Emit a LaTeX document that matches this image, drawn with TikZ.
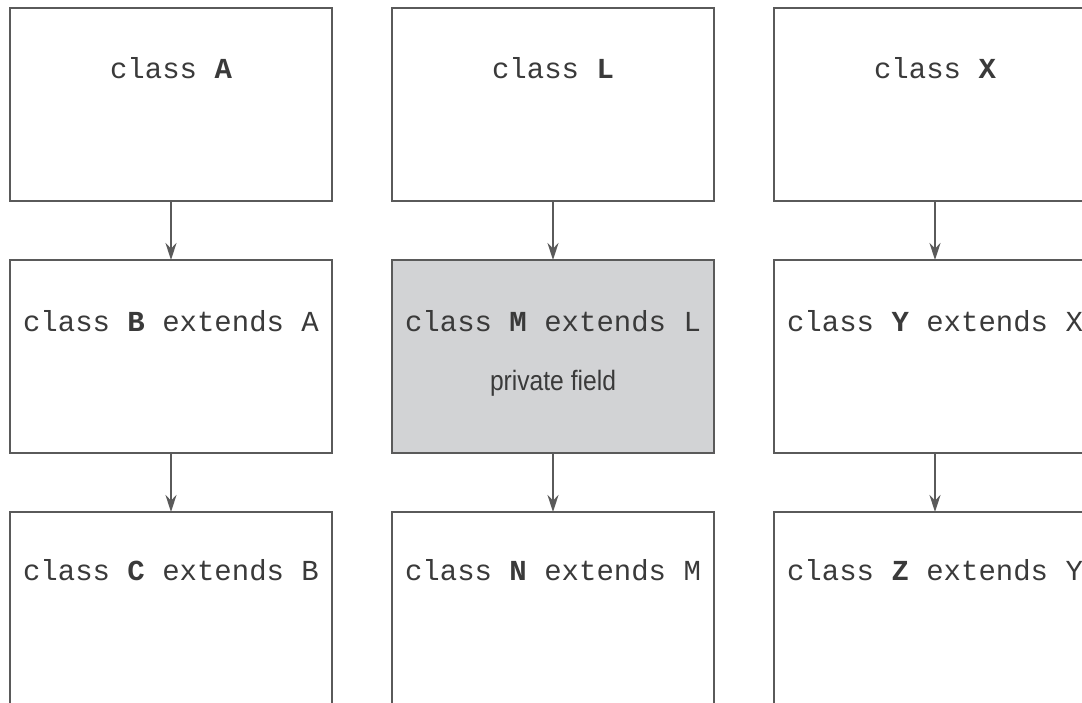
\documentclass[tikz,border=0pt]{standalone}
\usepackage{fontspec}
\setmonofont{Liberation Mono}
\newfontfamily\fieldfont[FakeStretch=0.88]{Liberation Sans}
\usepackage{xcolor}
\usetikzlibrary{positioning,arrows.meta}

\definecolor{linegray}{HTML}{5A5A5A}
\definecolor{boxgray}{HTML}{D2D3D5}
\definecolor{textgray}{HTML}{3A3A3A}

\begin{document}
\begin{tikzpicture}[
    node distance=29.5pt and 30pt,
    box/.style={rectangle, draw=linegray, line width=0.8pt, minimum width=161pt, minimum height=96.5pt, outer sep=0pt, inner sep=0pt, fill=white},
    code/.style={font=\ttfamily\fontsize{14.5}{17}\selectfont, text=textgray, inner sep=0pt},
    field/.style={font=\fieldfont\fontsize{14}{17}\selectfont, text=textgray, inner sep=0pt},
    arrow/.style={-{Stealth[length=8.5pt, width=5.5pt]}, draw=linegray, line width=0.8pt}
]
    \useasboundingbox (0,0) rectangle (541pt,-351pt);
    \clip (0,0) rectangle (541pt,-351pt);

    % top row
    \node[box, anchor=north west] (A) at (5pt,-4pt) {};
    \node[box, right=of A] (L) {};
    \node[box, right=of L] (X) {};
    % middle row
    \node[box, below=of A] (B) {};
    \node[box, below=of L, fill=boxgray] (M) {};
    \node[box, below=of X] (Y) {};
    % bottom row
    \node[box, below=of B] (C) {};
    \node[box, below=of M] (N) {};
    \node[box, below=of Y] (Z) {};

    \node[code] (Atext) at ([yshift=-30pt]A.north) {class \textbf{A}};
    \node[code] (Ltext) at ([yshift=-30pt]L.north) {class \textbf{L}};
    \node[code] (Xtext) at ([yshift=-30pt]X.north) {class \textbf{X}};
    \node[code] (Btext) at ([yshift=-30.5pt]B.north) {class \textbf{B} extends A};
    \node[code] (Mtext) at ([yshift=-30.5pt]M.north) {class \textbf{M} extends L};
    \node[field] (Mfield) at ([yshift=-61.5pt]M.north) {private field};
    \node[code] (Ytext) at ([yshift=-30.5pt]Y.north) {class \textbf{Y} extends X};
    \node[code] (Ctext) at ([yshift=-29pt]C.north) {class \textbf{C} extends B};
    \node[code] (Ntext) at ([yshift=-29pt]N.north) {class \textbf{N} extends M};
    \node[code] (Ztext) at ([yshift=-29pt]Z.north) {class \textbf{Z} extends Y};

    \draw[arrow] (A) -- (B);
    \draw[arrow] (B) -- (C);
    \draw[arrow] (L) -- (M);
    \draw[arrow] (M) -- (N);
    \draw[arrow] (X) -- (Y);
    \draw[arrow] (Y) -- (Z);
\end{tikzpicture}
\end{document}
